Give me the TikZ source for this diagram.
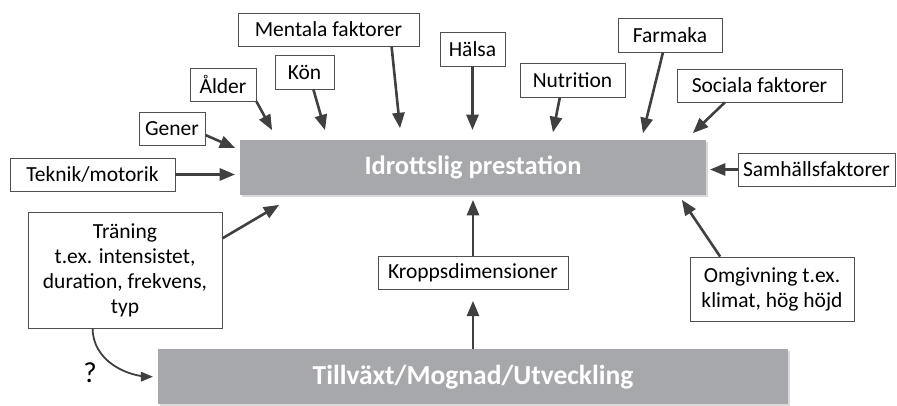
\documentclass[tikz,border=0pt]{standalone}
\usepackage{fontspec}
\setmainfont{Carlito}
\usetikzlibrary{shapes.geometric, arrows, positioning, shadows}
\definecolor{boxgray}{RGB}{167,168,171}
\definecolor{arrowgray}{RGB}{64,64,64}
\definecolor{edgegray}{RGB}{80,80,80}
\tikzstyle{factor} = [rectangle, draw=edgegray, line width=0.8pt, fill=white, align=center, inner sep=0pt, minimum height=33pt, font=\fontsize{21.5}{25}\selectfont]
\tikzstyle{block} = [rectangle, fill=boxgray, text=white, minimum height=55pt, font=\bfseries\fontsize{26.5}{30}\selectfont, drop shadow={opacity=0.3, shadow xshift=2pt, shadow yshift=-2pt}]
\tikzstyle{line} = [draw=arrowgray, line width=2.6pt, -triangle 45]

\begin{document}
\begin{tikzpicture}[x=1pt, y=-1pt, node distance=1cm]
    \useasboundingbox (0,0) rectangle (897,406);
    % Nodes
    \node [block, minimum width=466pt] (perf) at (473,167.5) {Idrottslig prestation};
    \node [factor, minimum width=190pt, below=61pt of perf] (kropps) {Kroppsdimensioner};
    \node [block, minimum width=630pt, below=59pt of kropps, font=\bfseries\fontsize{27.5}{32}\selectfont] (growth) {Tillväxt/Mognad/Utveckling};

    \node [factor, minimum width=165pt] (teknik) at (92.5,174.5) {Teknik/motorik};
    \node [factor, minimum width=66pt] (gener) at (172,128.5) {Gener};
    \node [factor, minimum width=66pt] (alder) at (223,84.5) {Ålder};
    \node [factor, minimum width=59pt, minimum height=34pt] (kon) at (304.5,72) {Kön};
    \node [factor, minimum width=181pt] (mentala) at (328.5,29.5) {Mentala faktorer};
    \node [factor, minimum width=65pt, minimum height=34pt] (halsa) at (472.5,49) {Hälsa};
    \node [factor, minimum width=105pt, minimum height=34pt] (nutrition) at (572.5,80) {Nutrition};
    \node [factor, minimum width=104pt, minimum height=34pt] (farmaka) at (670,35) {Farmaka};
    \node [factor, minimum width=165pt] (sociala) at (759.5,85.5) {Sociala faktorer};
    \node [factor, minimum width=157pt] (samhall) at (816.5,169.5) {Samhällsfaktorer};
    \node [factor, minimum width=194pt, minimum height=116pt] (traning) at (125,270) {Träning\\t.ex. intensistet,\\duration, frekvens,\\typ};
    \node [factor, minimum width=164pt, minimum height=64pt] (omgivning) at (772,289) {Omgivning t.ex.\\klimat, hög höjd};
    \node [font=\fontsize{29}{30}\selectfont] (qmark) at (90,373) {?};

    % Arrow tips
    \coordinate (tipGener) at (235,148);
    \coordinate (tipAlder) at (272,130);
    \coordinate (tipKon) at (325,130);
    \coordinate (tipMentala) at (400,128);
    \coordinate (tipNutrition) at (553,132);
    \coordinate (tipFarmaka) at (643,133);
    \coordinate (tipSociala) at (693,133);
    \coordinate (tipTraning) at (279,205);
    \coordinate (tipOmgivning) at (682,200);

    % Arrows
    \path [line, shorten >=5pt] (teknik) -- (teknik -| perf.west);
    \path [line] (gener.-11) -- (tipGener);
    \path [line] (alder.south east) -- (tipAlder);
    \path [line] (kon.-63) -- (tipKon);
    \path [line] (mentala.-15.5) -- (tipMentala);
    \path [line, shorten >=10pt] (halsa) -- (halsa |- perf.north);
    \path [line] (nutrition.-126) -- (tipNutrition);
    \path [line] (farmaka.-112) -- (tipFarmaka);
    \path [line] (sociala.-154) -- (tipSociala);
    \path [line, shorten >=4pt] (samhall) -- (samhall -| perf.east);
    \path [line] (traning.18.8) -- (tipTraning);
    \path [line] (omgivning.148.4) -- (tipOmgivning);
    \path [line, shorten >=5pt] (kropps) -- (perf);
    \path [line, shorten >=11pt] (growth) -- (kropps);
    \path [line, line width=1.8pt, shorten >=5pt] (traning.-119) to[out=-90, in=180] (growth.west);
\end{tikzpicture}
\end{document}
